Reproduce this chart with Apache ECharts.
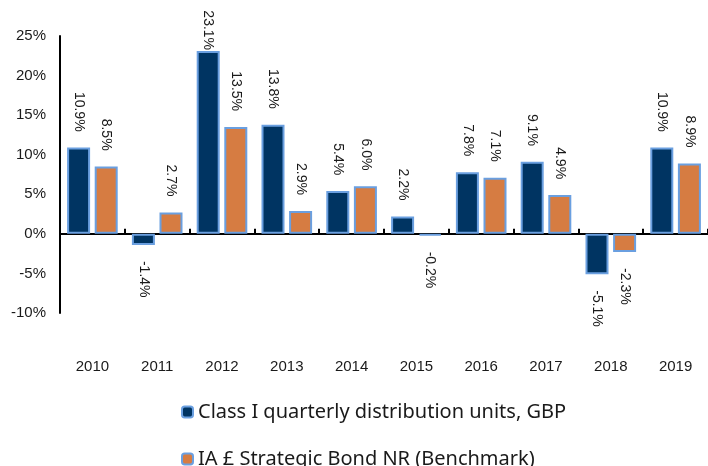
<!DOCTYPE html>
<html>
<head>
<meta charset="utf-8">
<script src="https://cdn.jsdelivr.net/npm/echarts@6/dist/echarts.min.js"></script>
<style>
  html, body { margin: 0; padding: 0; background: #fff; }
  #chart { width: 708px; height: 466px; }
</style>
</head>
<body>
<div id="chart"></div>
<script>
// data
const years = ['2010', '2011', '2012', '2013', '2014', '2015', '2016', '2017', '2018', '2019']
const fundReturns = [10.9, -1.4, 23.1, 13.8, 5.4, 2.2, 7.8, 9.1, -5.1, 10.9]
const benchmarkReturns = [8.5, 2.7, 13.5, 2.9, 6.0, -0.2, 7.1, 4.9, -2.3, 8.9]
const seriesNames = ['Class I quarterly distribution units, GBP', 'IA £ Strategic Bond NR (Benchmark)']

const labelFont = '"Liberation Sans", Arial, sans-serif'

// labels run top-to-bottom, sitting past the end of each bar
const withLabels = (values) => values.map(v => {
  const positive = v >= 0
  return {
    value: v,
    label: {
      show: true,
      position: positive ? 'top' : 'bottom',
      distance: v > 20 ? 1 : 16,
      rotate: -90,
      align: positive ? 'right' : 'left',
      verticalAlign: 'middle',
      formatter: v.toFixed(1) + '%',
      fontFamily: labelFont,
      fontSize: 14,
      color: '#1a1a1a'
    }
  }
})

// one legend per row, stacked
const legendRow = (name, top) => ({
  left: 176,
  top: top,
  itemWidth: 11,
  itemHeight: 11,
  data: [name],
  textStyle: { fontFamily: '"Noto Sans"', fontSize: 20, color: '#1a1a1a' }
})

const chart = echarts.init(document.getElementById('chart'))

const option = {
  animation: false,
  grid: { left: 60, top: 36, right: -8, bottom: 153 },
  legend: [
    legendRow(seriesNames[0], 397),
    legendRow(seriesNames[1], 444)
  ],
  xAxis: [
    {
      type: 'category',
      data: years,
      axisLine: { show: false, onZero: false },
      axisTick: { show: false },
      axisLabel: { margin: 46, fontFamily: labelFont, fontSize: 15, color: '#1a1a1a' }
    },
    {
      type: 'category',
      data: years,
      axisLine: { onZero: true, onZeroAxisIndex: 0, lineStyle: { color: '#000', width: 2 } },
      axisTick: { show: true, length: 5, lineStyle: { color: '#000', width: 2 } },
      axisLabel: { show: false }
    }
  ],
  yAxis: {
    type: 'value',
    min: -10,
    max: 25,
    interval: 5,
    axisLine: { show: true, lineStyle: { color: '#000', width: 2 } },
    axisTick: { show: false },
    splitLine: { show: false },
    axisLabel: {
      margin: 14,
      formatter: '{value}%',
      fontFamily: labelFont,
      fontSize: 15,
      color: '#1a1a1a'
    }
  },
  series: [
    {
      name: seriesNames[0],
      type: 'bar',
      xAxisIndex: 0,
      barWidth: 23,
      barGap: '20%',
      itemStyle: { color: '#003462', borderColor: '#6a9fe0', borderWidth: 2 },
      data: withLabels(fundReturns)
    },
    {
      name: seriesNames[1],
      type: 'bar',
      xAxisIndex: 0,
      barWidth: 23,
      barGap: '20%',
      itemStyle: { color: '#d67c42', borderColor: '#6a9fe0', borderWidth: 2 },
      data: withLabels(benchmarkReturns)
    }
  ]
}

chart.setOption(option)
</script>
</body>
</html>
